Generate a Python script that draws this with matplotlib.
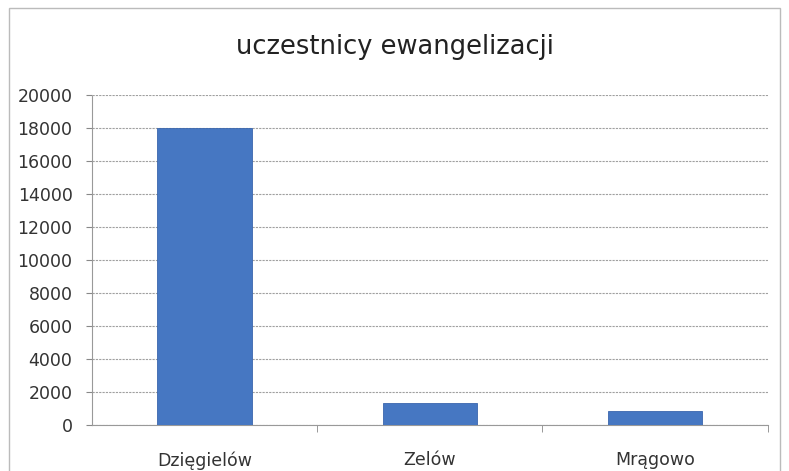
import numpy as np
import matplotlib.pyplot as plt
from matplotlib.patches import Rectangle

categories = ['Dzięgielów', 'Zelów', 'Mrągowo']
values = [18000, 1350, 850]
yticks = list(range(0, 20001, 2000))

fig = plt.figure(figsize=(7.89, 4.71), dpi=100)
ax = fig.add_axes([0.1166, 0.0977, 0.8564, 0.7006])

x = np.arange(len(categories))
ax.bar(x, values, width=0.42, color='#4677c2', edgecolor='#3a66ad', linewidth=0.6, zorder=3)

ax.set_xlim(-0.5, 2.5)
ax.set_ylim(0, 20000)
ax.set_yticks(yticks)
ax.set_yticklabels([str(v) for v in yticks], fontsize=12.5, color='#333333')
ax.yaxis.grid(True, linestyle=(0, (2, 1)), color='#a0a0a0', linewidth=0.8, zorder=0)

ax.set_xticks(x)
ax.set_xticklabels(categories, fontsize=12.5, color='#333333')
ax.set_xticks([0.5, 1.5, 2.5], minor=True)
ax.tick_params(axis='x', which='major', length=0, pad=19)
ax.tick_params(axis='x', which='minor', length=5, color='#888888', direction='out')
ax.tick_params(axis='y', length=4, color='#888888', direction='out', pad=10)

for side in ['top', 'right']:
    ax.spines[side].set_visible(False)
ax.spines['left'].set_color('#999999')
ax.spines['left'].set_linestyle((0, (2, 1)))
ax.spines['bottom'].set_color('#999999')

fig.text(0.5, 0.9, 'uczestnicy ewangelizacji', ha='center', va='center', fontsize=18.5, color='#222222')

fig.patches.append(Rectangle((0.011, -0.05), 0.978, 1.033, transform=fig.transFigure,
                             fill=False, edgecolor='#bbbbbb', linewidth=1))

fig.savefig('out.png', dpi=100)
